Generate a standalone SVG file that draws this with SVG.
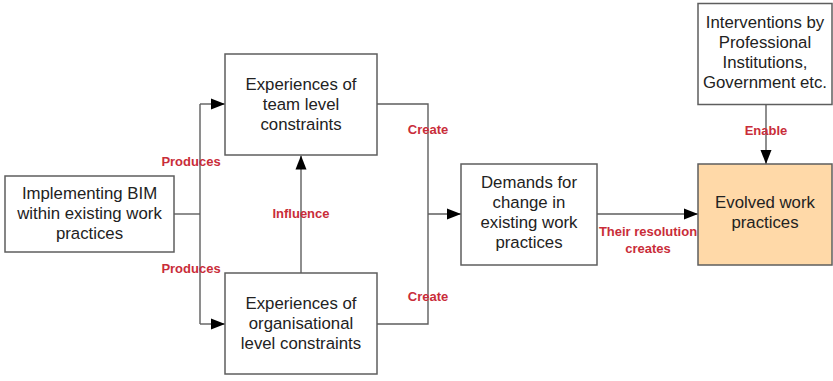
<svg xmlns="http://www.w3.org/2000/svg" width="833" height="381" viewBox="0 0 833 381">
<defs>
<marker id="ah" markerUnits="userSpaceOnUse" markerWidth="14" markerHeight="12" refX="14" refY="6" orient="auto">
<path d="M0,0.5 L14,6 L0,11.5 Z" fill="#000"/>
</marker>
<style>
.box{fill:#fff;stroke:#5e5e5e;stroke-width:1.5}
.hl{fill:#ffd9a8}
.t{font-family:"Liberation Sans",Arial,sans-serif;font-size:16.8px;fill:#222;text-anchor:middle}
.l{font-family:"Liberation Sans",Arial,sans-serif;font-size:13px;font-weight:bold;fill:#c92d39;text-anchor:middle}
.c{fill:none;stroke:#5e5e5e;stroke-width:1.4}
</style>
</defs>
<rect width="833" height="381" fill="#fff"/>
<g id="connectors">
<path class="c" d="M174,214 H200"/>
<path class="c" d="M200,104 V324"/>
<path class="c" d="M200,104 H225" marker-end="url(#ah)"/>
<path class="c" d="M200,324 H225" marker-end="url(#ah)"/>
<path class="c" d="M301,273 V155.5" marker-end="url(#ah)"/>
<path class="c" d="M377,104 H428 V324 H377"/>
<path class="c" d="M428,214 H461" marker-end="url(#ah)"/>
<path class="c" d="M597,214 H698" marker-end="url(#ah)"/>
<path class="c" d="M766,104 V164" marker-end="url(#ah)"/>
<text class="l" x="191" y="165.5">Produces</text>
<text class="l" x="191" y="272.5">Produces</text>
<text class="l" x="301" y="217.5">Influence</text>
<text class="l" x="428" y="134">Create</text>
<text class="l" x="428" y="300.5">Create</text>
<text class="l" x="766" y="134.5">Enable</text>
<text class="l" x="648" y="236">Their resolution</text>
<text class="l" x="648" y="252.5">creates</text>
</g>
<g id="implementing">
<rect class="box" x="5" y="176" width="169" height="76"/>
<text class="t" x="89.5" y="198.5">Implementing BIM</text>
<text class="t" x="89.5" y="218.5">within existing work</text>
<text class="t" x="89.5" y="238.5">practices</text>
</g>
<g id="team">
<rect class="box" x="225" y="54" width="152" height="101"/>
<text class="t" x="301" y="89.5">Experiences of</text>
<text class="t" x="301" y="109.5">team level</text>
<text class="t" x="301" y="129.5">constraints</text>
</g>
<g id="org">
<rect class="box" x="225" y="273" width="152" height="101"/>
<text class="t" x="301" y="309">Experiences of</text>
<text class="t" x="301" y="329">organisational</text>
<text class="t" x="301" y="349">level constraints</text>
</g>
<g id="demands">
<rect class="box" x="461" y="164" width="136" height="101"/>
<text class="t" x="529" y="187.5">Demands for</text>
<text class="t" x="529" y="207.5">change in</text>
<text class="t" x="529" y="227.5">existing work</text>
<text class="t" x="529" y="247.5">practices</text>
</g>
<g id="interventions">
<rect class="box" x="698" y="3.5" width="134" height="101"/>
<text class="t" x="765" y="27.5">Interventions by</text>
<text class="t" x="765" y="47.5">Professional</text>
<text class="t" x="765" y="67.5">Institutions,</text>
<text class="t" x="765" y="87.5">Government etc.</text>
</g>
<g id="evolved">
<rect class="box hl" x="698" y="164" width="134" height="101"/>
<text class="t" x="765" y="208">Evolved work</text>
<text class="t" x="765" y="228">practices</text>
</g>
</svg>
